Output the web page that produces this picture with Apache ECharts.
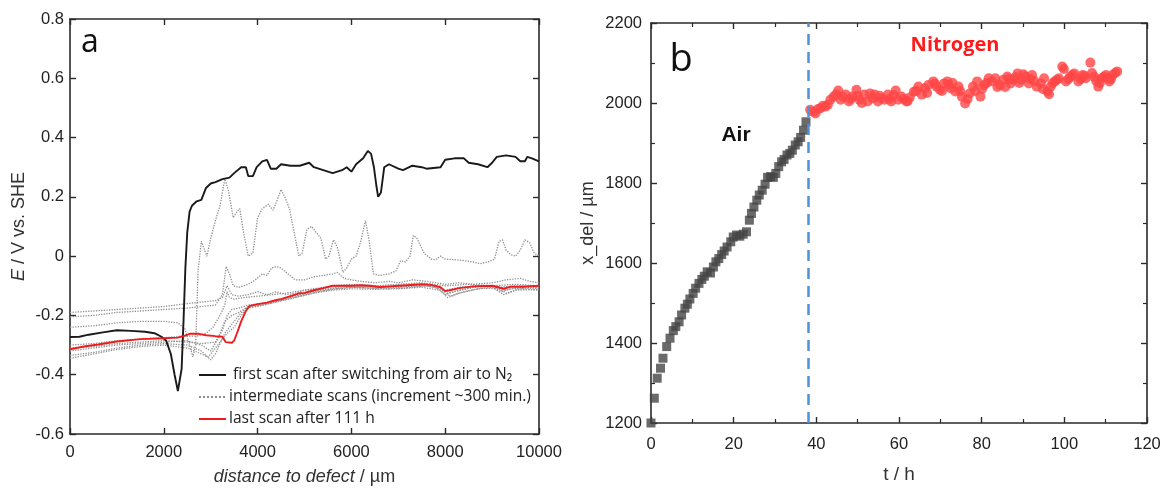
<!DOCTYPE html>
<html lang="en" style="height: 100%">
<head>
<meta charset="utf-8" />
</head>
<body style="height: 100%; margin: 0; background: #fff">
<div id="container" style="width: 1168px; height: 491px"></div>
<script type="text/javascript" src="https://fastly.jsdelivr.net/npm/echarts@6/dist/echarts.min.js"></script>
<script type="text/javascript">
// ---- panel a: potential scans, [distance / um, E / V] ----
var firstScan = [
  [0,-0.273],[200,-0.272],[400,-0.265],[700,-0.257],[1000,-0.25],[1300,-0.252],[1600,-0.255],[1800,-0.26],
  [1950,-0.272],[2050,-0.285],[2150,-0.33],[2230,-0.4],[2300,-0.455],[2340,-0.46],[2380,-0.38],[2420,-0.22],
  [2460,-0.04],[2500,0.08],[2550,0.15],[2600,0.17],[2700,0.185],[2800,0.19],[2900,0.23],[3000,0.245],
  [3100,0.25],[3250,0.26],[3400,0.265],[3500,0.28],[3650,0.3],[3750,0.3],[3800,0.27],[3900,0.27],
  [3980,0.3],[4100,0.32],[4200,0.325],[4280,0.295],[4400,0.295],[4500,0.31],[4700,0.305],[4900,0.305],
  [5100,0.315],[5200,0.3],[5400,0.29],[5600,0.28],[5800,0.29],[5900,0.3],[6000,0.285],[6100,0.31],
  [6250,0.33],[6350,0.355],[6420,0.345],[6480,0.3],[6530,0.24],[6570,0.2],[6630,0.215],[6700,0.3],
  [6800,0.31],[7000,0.295],[7100,0.29],[7300,0.305],[7500,0.3],[7600,0.295],[7900,0.3],[8000,0.325],
  [8200,0.33],[8400,0.33],[8500,0.315],[8700,0.31],[8900,0.3],[9000,0.315],[9100,0.335],[9300,0.34],
  [9500,0.335],[9600,0.32],[9700,0.32],[9750,0.335],[9850,0.33],[10000,0.32]
];
var lastScan = [
  [0,-0.314],[300,-0.305],[600,-0.298],[1000,-0.288],[1500,-0.28],[2000,-0.277],[2300,-0.275],[2450,-0.268],
  [2550,-0.262],[2750,-0.262],[2900,-0.267],[3100,-0.27],[3250,-0.272],[3320,-0.29],[3450,-0.292],[3500,-0.285],
  [3560,-0.26],[3650,-0.22],[3750,-0.185],[3830,-0.168],[4000,-0.162],[4200,-0.157],[4400,-0.148],[4500,-0.145],
  [4700,-0.135],[4900,-0.125],[5000,-0.124],[5200,-0.115],[5400,-0.108],[5600,-0.1],[5800,-0.1],[6000,-0.1],
  [6200,-0.098],[6400,-0.1],[6600,-0.104],[6800,-0.102],[7000,-0.1],[7200,-0.098],[7500,-0.095],[7700,-0.097],
  [7900,-0.105],[8000,-0.118],[8100,-0.115],[8300,-0.108],[8600,-0.102],[9000,-0.1],[9100,-0.104],[9250,-0.11],
  [9400,-0.103],[9700,-0.103],[10000,-0.1]
];
var midScan1 = [
  [0,-0.24],[500,-0.235],[1000,-0.225],[1500,-0.22],[2000,-0.22],[2300,-0.225],[2450,-0.245],[2550,-0.3],
  [2620,-0.34],[2680,-0.3],[2730,-0.05],[2800,0.05],[2870,0.02],[2920,0.0],[3000,0.06],[3100,0.12],
  [3200,0.17],[3300,0.26],[3380,0.22],[3480,0.13],[3560,0.15],[3620,0.16],[3700,0.08],[3800,0.0],
  [3900,0.01],[4000,0.13],[4100,0.16],[4230,0.175],[4330,0.155],[4420,0.19],[4500,0.225],[4580,0.2],
  [4680,0.16],[4780,0.08],[4880,0.0],[4950,0.01],[5050,0.09],[5150,0.1],[5250,0.08],[5350,0.06],
  [5450,-0.01],[5520,0.0],[5620,0.055],[5700,0.03],[5820,-0.055],[5900,-0.04],[6000,-0.01],[6100,0.0],
  [6200,0.05],[6300,0.12],[6380,0.05],[6470,-0.06],[6600,-0.065],[6800,-0.06],[6950,-0.05],[7050,-0.015],
  [7150,-0.02],[7250,0.0],[7320,0.07],[7400,0.06],[7550,0.01],[7700,-0.01],[7800,-0.012],[7900,0.0],
  [8000,-0.01],[8200,-0.012],[8400,-0.015],[8600,-0.02],[8750,-0.025],[8900,-0.02],[9050,-0.01],[9150,0.05],
  [9220,0.055],[9300,0.02],[9400,0.005],[9500,0.0],[9600,0.02],[9700,0.055],[9800,0.045],[9900,0.01],[10000,0.0]
];
var midScan2 = [
  [0,-0.205],[500,-0.2],[1000,-0.19],[1500,-0.185],[2000,-0.18],[2500,-0.175],[2800,-0.17],[3100,-0.165],
  [3250,-0.13],[3330,-0.035],[3400,-0.06],[3480,-0.1],[3600,-0.105],[3800,-0.095],[3950,-0.08],[4100,-0.06],
  [4200,-0.065],[4300,-0.04],[4400,-0.035],[4500,-0.04],[4650,-0.06],[4800,-0.08],[5000,-0.08],[5200,-0.07],
  [5400,-0.065],[5600,-0.06],[5700,-0.055],[5850,-0.075],[6000,-0.08],[6200,-0.085],[6500,-0.09],[6800,-0.085],
  [7000,-0.09],[7300,-0.08],[7600,-0.085],[8000,-0.095],[8300,-0.09],[8600,-0.095],[9000,-0.09],[9300,-0.08],
  [9600,-0.075],[9800,-0.085],[10000,-0.09]
];
var midScan3 = [
  [0,-0.19],[500,-0.185],[1000,-0.18],[1500,-0.175],[2000,-0.17],[2500,-0.16],[2800,-0.155],[3100,-0.15],
  [3250,-0.14],[3350,-0.1],[3450,-0.13],[3600,-0.135],[3800,-0.13],[4000,-0.12],[4200,-0.13],[4400,-0.12],
  [4600,-0.13],[4800,-0.125],[5000,-0.115],[5300,-0.11],[5600,-0.1],[6000,-0.095],[6500,-0.1],[7000,-0.095],
  [7500,-0.09],[8000,-0.1],[8500,-0.095],[9000,-0.1],[9500,-0.095],[10000,-0.1]
];
var midScan4 = [
  [0,-0.3],[500,-0.295],[1000,-0.285],[1500,-0.28],[2000,-0.275],[2400,-0.27],[2700,-0.27],[2900,-0.26],
  [3050,-0.24],[3200,-0.2],[3300,-0.165],[3350,-0.12],[3400,-0.14],[3500,-0.145],[3700,-0.14],[4000,-0.135],
  [4300,-0.13],[4600,-0.125],[5000,-0.115],[5400,-0.105],[5800,-0.1],[6200,-0.1],[6600,-0.105],[7000,-0.1],
  [7500,-0.095],[7800,-0.1],[8000,-0.115],[8300,-0.105],[8700,-0.1],[9000,-0.1],[9200,-0.105],[9500,-0.1],[10000,-0.1]
];
var midScan5 = [
  [0,-0.32],[500,-0.31],[1000,-0.3],[1500,-0.295],[2000,-0.29],[2500,-0.285],[2800,-0.3],[3000,-0.32],
  [3150,-0.28],[3300,-0.22],[3450,-0.2],[3600,-0.19],[3800,-0.17],[4000,-0.165],[4400,-0.15],[4800,-0.135],
  [5200,-0.12],[5600,-0.11],[6000,-0.105],[6500,-0.108],[7000,-0.105],[7500,-0.1],[7800,-0.105],[8000,-0.13],
  [8200,-0.12],[8600,-0.105],[9000,-0.1],[9200,-0.12],[9400,-0.11],[10000,-0.108]
];
var midScan6 = [
  [0,-0.335],[500,-0.325],[1000,-0.31],[1500,-0.3],[2000,-0.295],[2500,-0.3],[2800,-0.32],[3000,-0.35],
  [3100,-0.33],[3300,-0.26],[3450,-0.23],[3600,-0.2],[3750,-0.175],[4000,-0.17],[4400,-0.155],[4800,-0.14],
  [5200,-0.125],[5600,-0.115],[6000,-0.11],[6500,-0.112],[7000,-0.11],[7500,-0.105],[7900,-0.115],[8050,-0.14],
  [8300,-0.125],[8700,-0.11],[9000,-0.105],[9250,-0.13],[9500,-0.115],[10000,-0.112]
];
var midScan7 = [
  [0,-0.345],[500,-0.33],[1000,-0.315],[1500,-0.305],[2000,-0.3],[2500,-0.31],[2800,-0.33],[2950,-0.34],
  [3150,-0.3],[3350,-0.26],[3500,-0.24],[3650,-0.2],[3800,-0.17],[4100,-0.165],[4500,-0.15],[4900,-0.135],
  [5300,-0.12],[5700,-0.11],[6100,-0.105],[6600,-0.11],[7100,-0.108],[7600,-0.1],[7900,-0.11],[8100,-0.135],
  [8400,-0.12],[8800,-0.108],[9150,-0.11],[9300,-0.125],[9600,-0.11],[10000,-0.115]
];
var midScan8 = [
  [0,-0.31],[500,-0.305],[1000,-0.295],[1500,-0.29],[2000,-0.285],[2500,-0.29],[2800,-0.295],[3100,-0.29],
  [3250,-0.25],[3350,-0.2],[3450,-0.18],[3600,-0.175],[3800,-0.165],[4100,-0.16],[4500,-0.145],[4900,-0.13],
  [5300,-0.115],[5700,-0.105],[6100,-0.1],[6600,-0.105],[7100,-0.102],[7600,-0.095],[7900,-0.105],[8050,-0.125],
  [8300,-0.115],[8700,-0.102],[9100,-0.1],[9250,-0.115],[9600,-0.105],[10000,-0.105]
];
var midScans = [midScan1, midScan2, midScan3, midScan4, midScan5, midScan6, midScan7, midScan8];

// ---- panel b: delamination front x_del vs time ----
var airT = [0,0.8,1.5,2.3,2.9,3.8,4.6,5.4,6,6.8,7.4,8.2,8.8,9.4,10.2,10.8,11.6,12.3,12.9,13.6,14.4,15.1,15.7,
  16.4,17.1,17.7,18.4,19.3,19.9,20.7,21.5,22.3,23.1,23.8,24.3,24.9,25.6,26.2,26.9,27.6,28.2,28.9,29.6,30.2,
  30.9,31.6,32.2,32.9,33.6,34.2,34.9,35.6,36.2,36.9,37.5];
var airX = [1200,1262,1312,1337,1362,1391,1412,1431,1441,1453,1470,1487,1497,1510,1524,1537,1549,1559,1567,1578,
  1575,1590,1603,1611,1621,1630,1640,1653,1665,1670,1667,1672,1678,1707,1724,1740,1757,1770,1782,1797,1814,
  1816,1814,1824,1841,1853,1859,1870,1874,1882,1895,1903,1914,1932,1953];
var n2T = [38.5,39.2,39.8,40.4,41,41.6,42.2,42.8,43.4,44.2,44.8,45.3,45.9,46.5,47.1,47.9,48.3,48.7,49.7,50,
  50.4,51,51.6,52.4,53,53.6,54.1,54.9,55.3,55.7,56.5,57.3,57.7,58.1,58.7,59.2,59.8,60.6,61.2,61.8,62.1,62.6,
  63.6,64.1,64.7,65.5,66.3,66.8,67.1,68.3,68.7,69.1,69.9,70.4,70.9,71.7,72,72.5,73,73.6,74.4,74.8,75.2,76,
  76.6,77.1,77.9,78.4,78.9,79.7,80.1,80.6,81.2,81.7,82.5,83.3,83.8,84.4,85.2,85.7,86.2,86.6,87,87.8,88.2,
  88.7,89.1,89.6,90.1,90.6,91.4,91.8,92.2,92.8,93.3,94.3,94.8,95.1,95.9,96.3,96.7,97.2,97.7,98.2,98.7,99.5,
  99.9,100.4,101,101.4,102,102.4,103.4,103.9,104.4,104.9,105.2,106.3,106.7,107.2,107.7,108.2,108.6,109,
  109.6,110.1,110.5,110.9,111.3,111.7,112.3,112.8];
var n2X = [1983,1978,1974,1985,1987,1993,1991,1996,2008,2016,2022,2031,2008,2015,2021,2004,2010,2016,2033,2018,
  2008,2000,2021,2004,2024,2012,2021,2004,2018,2012,2008,2021,2010,2004,2020,2031,2008,2016,2010,2004,2005,2014,
  2028,2030,2041,2021,2037,2025,2045,2054,2048,2041,2033,2030,2049,2054,2045,2037,2050,2029,2041,2030,2016,1999,
  2010,2024,2041,2030,2054,2016,2035,2045,2050,2062,2054,2062,2040,2045,2058,2040,2066,2060,2049,2058,2065,
  2074,2050,2058,2072,2066,2049,2060,2070,2055,2041,2049,2035,2062,2029,2022,2041,2050,2054,2058,2062,2091,
  2085,2054,2060,2066,2070,2074,2054,2060,2070,2068,2062,2101,2075,2066,2055,2041,2050,2062,2066,2070,2062,
  2054,2060,2070,2075,2079];
var switchTime = 38;

var legendNames = [' first scan after switching from air to N\u2082', 'intermediate scans (increment ~300 min.)', 'last scan after 111 h'];

function pairs(xs, ys) {
  return xs.map(function (x, i) { return [x, ys[i]]; });
}

var dom = document.getElementById('container');
var myChart = echarts.init(dom, null, { renderer: 'canvas' });

var tickFont = {
  fontFamily: 'Liberation Sans', fontSize: 16.5, color: '#222',
  formatter: function (v) { return String(v); }
};
var axisLine = { show: true, onZero: false, lineStyle: { color: '#2a2a2a', width: 1.6 } };
var minor = { show: true, splitNumber: 2, length: 4, lineStyle: { color: '#2a2a2a', width: 1.2 } };

function mkAxis(gi, pos, opts) {
  return Object.assign({
    type: 'value', gridIndex: gi, position: pos,
    axisLine: axisLine,
    axisTick: { show: true, inside: true, length: 6, lineStyle: { color: '#2a2a2a', width: 1.4 } },
    splitLine: { show: false },
    axisLabel: { show: false }
  }, opts);
}

var series = [];
midScans.forEach(function (s) {
  series.push({
    name: legendNames[1], type: 'line', xAxisIndex: 0, yAxisIndex: 0, data: s,
    symbol: 'none', z: 2, silent: true,
    lineStyle: { color: '#8e8e8e', width: 1.3, type: 'dotted' }
  });
});
series.push({
  name: legendNames[0], type: 'line', xAxisIndex: 0, yAxisIndex: 0, data: firstScan,
  symbol: 'none', z: 4, lineStyle: { color: '#1a1a1a', width: 1.9 }
});
series.push({
  name: legendNames[2], type: 'line', xAxisIndex: 0, yAxisIndex: 0, data: lastScan,
  symbol: 'none', z: 5, lineStyle: { color: '#ee1c1c', width: 1.9 }
});
series.push({
  name: 'Air', type: 'scatter', xAxisIndex: 2, yAxisIndex: 2, data: pairs(airT, airX),
  symbol: 'rect', symbolSize: 9, itemStyle: { color: '#454545' }
});
series.push({
  name: 'Nitrogen', type: 'scatter', xAxisIndex: 2, yAxisIndex: 2, data: pairs(n2T, n2X),
  symbol: 'circle', symbolSize: 10, z: 3, itemStyle: { color: '#ff4646' },
  markLine: {
    silent: true, symbol: 'none', label: { show: false },
    lineStyle: { color: '#4d93d9', width: 2.5, type: [11, 7] },
    data: [{ xAxis: switchTime }]
  }
});

var option = {
  backgroundColor: '#fff',
  animation: false,
  grid: [
    { left: 70, top: 19, width: 469, height: 416 },
    { left: 651, top: 23, width: 496, height: 400 }
  ],
  xAxis: [
    mkAxis(0, 'bottom', {
      min: 0, max: 10000, interval: 2000,
      axisLabel: Object.assign({ margin: 10 }, tickFont),
      name: '{i|distance to defect} / \u00b5m', nameLocation: 'middle', nameGap: 34,
      nameTextStyle: { fontFamily: 'Liberation Sans', fontSize: 18, color: '#333',
        rich: { i: { fontStyle: 'italic', fontSize: 18, fontFamily: 'Liberation Sans', color: '#333' } } }
    }),
    mkAxis(0, 'top', { min: 0, max: 10000, interval: 2000 }),
    mkAxis(1, 'bottom', {
      min: 0, max: 120, interval: 20, minorTick: minor,
      axisLabel: Object.assign({ margin: 13 }, tickFont),
      name: 't / h', nameLocation: 'middle', nameGap: 42,
      nameTextStyle: { fontFamily: 'Liberation Sans', fontSize: 19, color: '#333' }
    }),
    mkAxis(1, 'top', { min: 0, max: 120, interval: 20, minorTick: minor })
  ],
  yAxis: [
    mkAxis(0, 'left', {
      min: -0.6, max: 0.8, interval: 0.2,
      axisLabel: Object.assign({ margin: 6 }, tickFont),
      name: '{i|E} / V vs. SHE', nameLocation: 'middle', nameGap: 42,
      nameTextStyle: { fontFamily: 'Liberation Sans', fontSize: 18, color: '#333',
        rich: { i: { fontStyle: 'italic', fontSize: 18, fontFamily: 'Liberation Sans', color: '#333' } } }
    }),
    mkAxis(0, 'right', { min: -0.6, max: 0.8, interval: 0.2 }),
    mkAxis(1, 'left', {
      min: 1200, max: 2200, interval: 200, minorTick: minor,
      axisLabel: Object.assign({ margin: 9 }, tickFont),
      name: 'x_del / \u00b5m', nameLocation: 'middle', nameGap: 54,
      nameTextStyle: { fontFamily: 'Liberation Sans', fontSize: 18, color: '#333' }
    }),
    mkAxis(1, 'right', { min: 1200, max: 2200, interval: 200, minorTick: minor })
  ],
  legend: {
    data: legendNames,
    orient: 'vertical', left: 193, top: 362, itemGap: 6,
    itemWidth: 27, itemHeight: 14,
    selectedMode: false,
    itemStyle: { opacity: 0 },
    textStyle: { fontFamily: 'Open Sans', fontSize: 15.6, color: '#222', padding: [0, 0, 0, -2] }
  },
  graphic: [
    { type: 'text', x: 90, y: 43, style: { text: 'a', fontFamily: 'Open Sans', fontSize: 32, fill: '#111', align: 'center', verticalAlign: 'middle' } },
    { type: 'text', x: 681, y: 60, style: { text: 'b', fontFamily: 'Open Sans', fontSize: 38, fill: '#111', align: 'center', verticalAlign: 'middle' } },
    { type: 'text', x: 736, y: 135, style: { text: 'Air', fontFamily: 'Liberation Sans', fontWeight: 'bold', fontSize: 21, fill: '#111', align: 'center', verticalAlign: 'middle' } },
    { type: 'text', x: 955, y: 45, style: { text: 'Nitrogen', fontFamily: 'Open Sans', fontWeight: 'bold', fontSize: 20, fill: '#ff1a1a', align: 'center', verticalAlign: 'middle' } }
  ],
  series: series
};

myChart.setOption(option);
window.addEventListener('resize', myChart.resize);
</script>
</body>
</html>
